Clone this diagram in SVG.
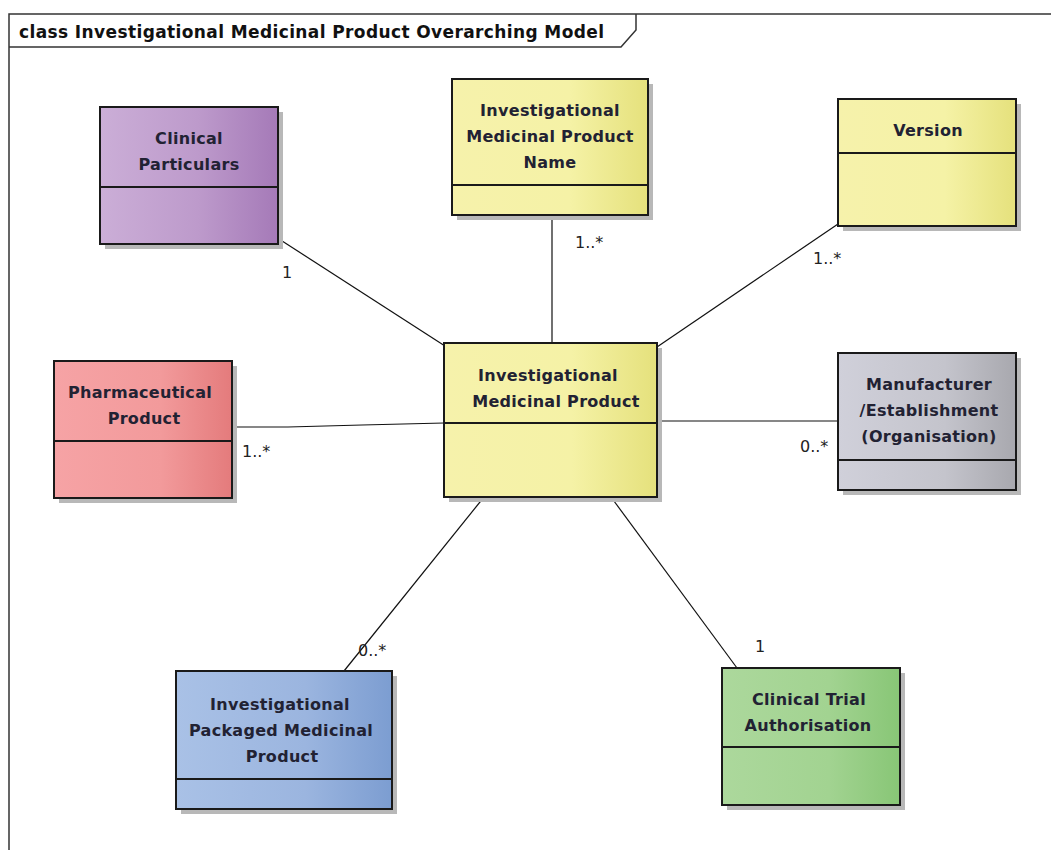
<svg xmlns="http://www.w3.org/2000/svg" width="1051" height="850" viewBox="0 0 1051 850">
  <defs>
    <linearGradient id="gPurple" x1="0" y1="0" x2="1" y2="0">
      <stop offset="0" stop-color="#cbaed7"/>
      <stop offset="0.55" stop-color="#bd9acb"/>
      <stop offset="1" stop-color="#a57ab8"/>
    </linearGradient>
    <linearGradient id="gYellow" x1="0" y1="0" x2="1" y2="0">
      <stop offset="0" stop-color="#f6f2ab"/>
      <stop offset="0.6" stop-color="#f5f2a6"/>
      <stop offset="1" stop-color="#e5e17c"/>
    </linearGradient>
    <linearGradient id="gRed" x1="0" y1="0" x2="1" y2="0">
      <stop offset="0" stop-color="#f6a3a5"/>
      <stop offset="0.6" stop-color="#f29a9b"/>
      <stop offset="1" stop-color="#e47b7c"/>
    </linearGradient>
    <linearGradient id="gGray" x1="0" y1="0" x2="1" y2="0">
      <stop offset="0" stop-color="#d0d0da"/>
      <stop offset="0.6" stop-color="#c4c4cc"/>
      <stop offset="1" stop-color="#a8a8ae"/>
    </linearGradient>
    <linearGradient id="gBlue" x1="0" y1="0" x2="1" y2="0">
      <stop offset="0" stop-color="#a9c1e6"/>
      <stop offset="0.6" stop-color="#9bb5df"/>
      <stop offset="1" stop-color="#7c9dd1"/>
    </linearGradient>
    <linearGradient id="gGreen" x1="0" y1="0" x2="1" y2="0">
      <stop offset="0" stop-color="#acd89c"/>
      <stop offset="0.6" stop-color="#a2d391"/>
      <stop offset="1" stop-color="#88c676"/>
    </linearGradient>
  </defs>
  <style>
    .frame { fill: none; stroke: #333; stroke-width: 1.5; }
    .title { font-family: "DejaVu Sans", Verdana, sans-serif; font-size: 17px; font-weight: bold; fill: #111; }
    .shadow { fill: #b8b8b8; }
    .box { stroke: #1a1a1a; stroke-width: 2; }
    .div { stroke: #1a1a1a; stroke-width: 2; }
    .name { font-family: "DejaVu Sans", Verdana, sans-serif; font-size: 16px; font-weight: bold; letter-spacing: 0.3px; fill: #222233; text-anchor: middle; }
    .conn line, .conn polyline { stroke: #111; stroke-width: 1.2; fill: none; }
    .mult { font-family: "DejaVu Sans", Verdana, sans-serif; font-size: 16px; fill: #222; }
  </style>

  <rect width="1051" height="850" fill="#ffffff"/>

  <!-- diagram frame with its title tab -->
  <g id="frame">
    <path class="frame" d="M9,850 V14 H1051"/>
    <path class="frame" d="M9,47 H621 L636,30 V14"/>
    <text class="title" x="19" y="38" textLength="585" lengthAdjust="spacing">class Investigational Medicinal Product Overarching Model</text>
  </g>

  <!-- associations -->
  <g id="connectors" class="conn">
    <line x1="279" y1="239" x2="445" y2="346"/>
    <line x1="552" y1="217" x2="552" y2="343"/>
    <line x1="838" y1="224" x2="657" y2="347"/>
    <polyline points="232,427 288,427 362,425 444,423"/>
    <line x1="657" y1="421" x2="838" y2="421"/>
    <line x1="484" y1="497" x2="344" y2="671"/>
    <line x1="611" y1="497" x2="737" y2="668"/>
    <text class="mult" x="282" y="278">1</text>
    <text class="mult" x="575" y="248">1..*</text>
    <text class="mult" x="813" y="264">1..*</text>
    <text class="mult" x="242" y="457">1..*</text>
    <text class="mult" x="800" y="452">0..*</text>
    <text class="mult" x="358" y="656">0..*</text>
    <text class="mult" x="755" y="652">1</text>
  </g>

  <g id="clinical-particulars">
    <rect class="shadow" x="105" y="112" width="178" height="137"/>
    <rect class="box" x="100" y="107" width="178" height="137" fill="url(#gPurple)"/>
    <line class="div" x1="100" y1="187" x2="278" y2="187"/>
    <text class="name" x="189" y="144">Clinical</text>
    <text class="name" x="189" y="170">Particulars</text>
  </g>

  <g id="imp-name">
    <rect class="shadow" x="457" y="84" width="196" height="136"/>
    <rect class="box" x="452" y="79" width="196" height="136" fill="url(#gYellow)"/>
    <line class="div" x1="452" y1="185" x2="648" y2="185"/>
    <text class="name" x="550" y="116">Investigational</text>
    <text class="name" x="550" y="142">Medicinal Product</text>
    <text class="name" x="550" y="168">Name</text>
  </g>

  <g id="version">
    <rect class="shadow" x="843" y="104" width="178" height="127"/>
    <rect class="box" x="838" y="99" width="178" height="127" fill="url(#gYellow)"/>
    <line class="div" x1="838" y1="153" x2="1016" y2="153"/>
    <text class="name" x="928" y="136">Version</text>
  </g>

  <g id="pharmaceutical-product">
    <rect class="shadow" x="59" y="366" width="178" height="137"/>
    <rect class="box" x="54" y="361" width="178" height="137" fill="url(#gRed)"/>
    <line class="div" x1="54" y1="441" x2="232" y2="441"/>
    <text class="name" x="140" y="398">Pharmaceutical</text>
    <text class="name" x="144" y="424">Product</text>
  </g>

  <g id="investigational-medicinal-product">
    <rect class="shadow" x="449" y="348" width="213" height="154"/>
    <rect class="box" x="444" y="343" width="213" height="154" fill="url(#gYellow)"/>
    <line class="div" x1="444" y1="423" x2="657" y2="423"/>
    <text class="name" x="548" y="381">Investigational</text>
    <text class="name" x="556" y="407">Medicinal Product</text>
  </g>

  <g id="manufacturer-establishment">
    <rect class="shadow" x="843" y="358" width="178" height="137"/>
    <rect class="box" x="838" y="353" width="178" height="137" fill="url(#gGray)"/>
    <line class="div" x1="838" y1="460" x2="1016" y2="460"/>
    <text class="name" x="929" y="390">Manufacturer</text>
    <text class="name" x="929" y="416">/Establishment</text>
    <text class="name" x="929" y="442">(Organisation)</text>
  </g>

  <g id="investigational-packaged-medicinal-product">
    <rect class="shadow" x="181" y="676" width="216" height="138"/>
    <rect class="box" x="176" y="671" width="216" height="138" fill="url(#gBlue)"/>
    <line class="div" x1="176" y1="779" x2="392" y2="779"/>
    <text class="name" x="280" y="710">Investigational</text>
    <text class="name" x="281" y="736">Packaged Medicinal</text>
    <text class="name" x="282" y="762">Product</text>
  </g>

  <g id="clinical-trial-authorisation">
    <rect class="shadow" x="727" y="673" width="178" height="137"/>
    <rect class="box" x="722" y="668" width="178" height="137" fill="url(#gGreen)"/>
    <line class="div" x1="722" y1="747" x2="900" y2="747"/>
    <text class="name" x="809" y="705">Clinical Trial</text>
    <text class="name" x="808" y="731">Authorisation</text>
  </g>
</svg>
